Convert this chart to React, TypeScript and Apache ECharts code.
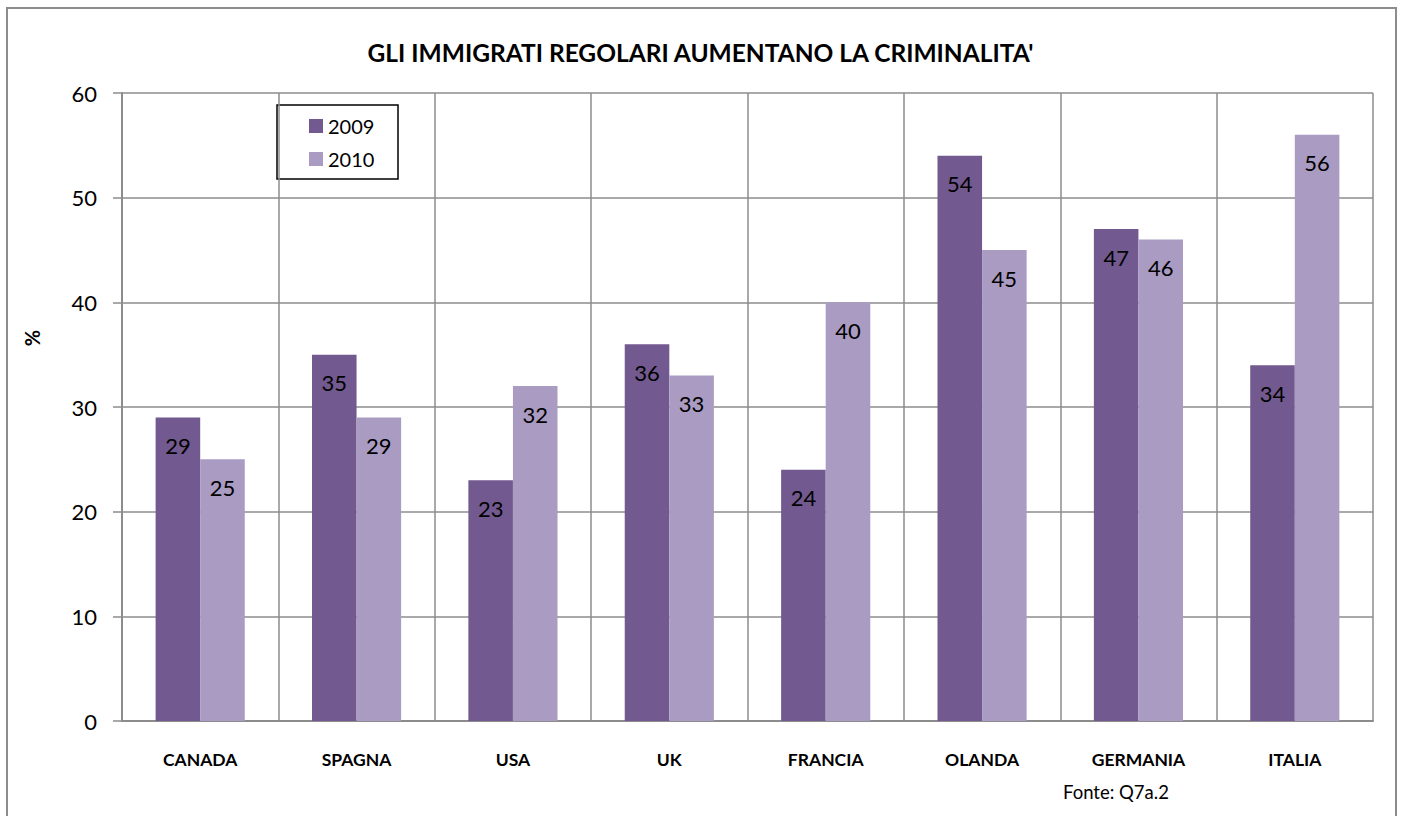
import React, { useEffect, useRef } from "react";
import * as echarts from "echarts";

const categories = ["CANADA", "SPAGNA", "USA", "UK", "FRANCIA", "OLANDA", "GERMANIA", "ITALIA"];
const values2009 = [29, 35, 23, 36, 24, 54, 47, 34];
const values2010 = [25, 29, 32, 33, 40, 45, 46, 56];
const seriesNames = ["2009", "2010"];
const titleText = "GLI IMMIGRATI REGOLARI AUMENTANO LA CRIMINALITA'";
const sourceText = "Fonte: Q7a.2";
const yAxisTitle = "%";

const FONT = "Lato, 'Open Sans', sans-serif";

export default function App() {
  const ref = useRef<HTMLDivElement>(null);
  useEffect(() => {
    document.body.style.margin = "0";
    const chart = echarts.init(ref.current!, null, { renderer: "svg" });
    const label = {
      show: true,
      position: "insideTop",
      distance: 17,
      color: "#000",
      fontSize: 22,
      fontFamily: FONT,
    };
    chart.setOption({
      animation: false,
      backgroundColor: "#fff",
      textStyle: { fontFamily: FONT },
      title: {
        text: titleText,
        left: "center",
        top: 35,
        textStyle: { fontSize: 24.5, fontWeight: "bold", color: "#000", fontFamily: FONT },
      },
      legend: {
        orient: "vertical",
        left: 304,
        top: 111,
        itemWidth: 14,
        itemHeight: 14,
        itemGap: 13,
        icon: "rect",
        data: seriesNames,
        textStyle: { fontSize: 20, color: "#000", fontFamily: FONT },
      },
      grid: { left: 122, right: 28, top: 93, bottom: 95, containLabel: false },
      xAxis: {
        type: "category",
        data: categories,
        axisLine: { lineStyle: { color: "#8c8c8c", width: 2 } },
        axisTick: { show: false },
        splitLine: { show: true, lineStyle: { color: "#8c8c8c", width: 1.5 } },
        axisLabel: { fontSize: 17.5, fontWeight: "bold", color: "#000", margin: 29, fontFamily: FONT },
      },
      yAxis: {
        type: "value",
        min: 0,
        max: 60,
        interval: 10,
        axisLine: { show: true, lineStyle: { color: "#8c8c8c", width: 2 } },
        axisTick: { show: true, length: 9, lineStyle: { color: "#8c8c8c", width: 1.5 } },
        splitLine: { show: true, lineStyle: { color: "#8c8c8c", width: 1.5 } },
        axisLabel: { fontSize: 22, color: "#000", margin: 25, fontFamily: FONT },
      },
      series: [
        {
          name: seriesNames[0],
          type: "bar",
          data: values2009,
          barGap: "0%",
          barCategoryGap: "43%",
          itemStyle: { color: "#72598f" },
          label,
        },
        {
          name: seriesNames[1],
          type: "bar",
          data: values2010,
          itemStyle: { color: "#aa9bc2" },
          label,
        },
      ],
      graphic: [
        {
          type: "rect",
          shape: { x: 7, y: 8, width: 1389, height: 900 },
          style: { fill: "none", stroke: "#8c8c8c", lineWidth: 2 },
          silent: true,
        },
        {
          type: "rect",
          shape: { x: 277, y: 105, width: 121, height: 74 },
          style: { fill: "none", stroke: "#000", lineWidth: 1.5 },
          silent: true,
        },
        {
          type: "text",
          x: 32,
          y: 338,
          rotation: Math.PI / 2,
          style: {
            text: yAxisTitle,
            fontSize: 20,
            fontWeight: "bold",
            fill: "#000",
            fontFamily: FONT,
            align: "center",
            verticalAlign: "middle",
          },
        },
        {
          type: "text",
          left: 1063,
          top: 782,
          style: { text: sourceText, fontSize: 18.5, fill: "#000", fontFamily: FONT },
        },
      ],
    });
    return () => chart.dispose();
  }, []);
  return <div ref={ref} style={{ width: 1401, height: 816 }} />;
}
